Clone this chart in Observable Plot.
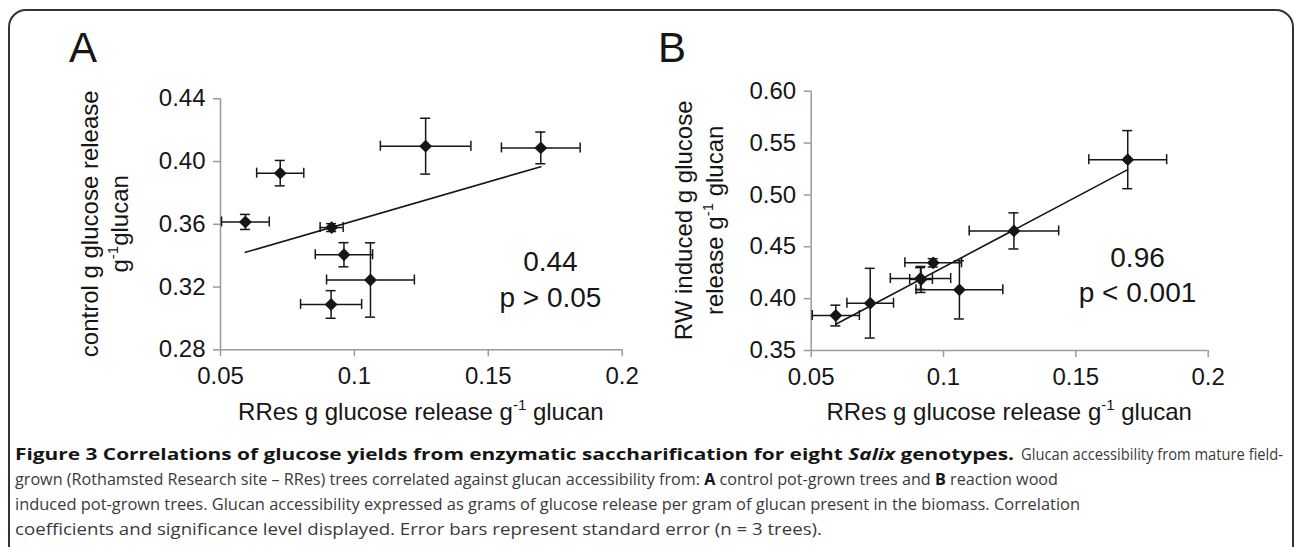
<!DOCTYPE html>
<html>
<head>
<meta charset="utf-8">
<script src="https://cdn.jsdelivr.net/npm/d3@7"></script>
<script src="https://cdn.jsdelivr.net/npm/@observablehq/plot@0.6"></script>
<style>
  html, body { margin: 0; padding: 0; background: #fff; }
  #page { position: relative; width: 1295px; height: 547px; overflow: hidden; background: #fff; }
  #frame { position: absolute; left: 8px; top: 9px; width: 1286px; height: 620px; border: 2px solid #333;
           border-radius: 18px; box-sizing: border-box; pointer-events: none; z-index: 5; }
  .panel { position: absolute; top: 0; height: 430px; }
  #caption { position: absolute; left: 0; top: 430px; width: 1295px; height: 117px; }
  #caption svg { display: block; }
  #caption text { white-space: pre; }
</style>
</head>
<body>
<div id="page">
  <div id="panelA" class="panel" style="left:0;width:647px"></div>
  <div id="panelB" class="panel" style="left:647px;width:648px"></div>
  <div id="caption"></div>
  <div id="frame"></div>
</div>
<script>
// ---- Data ----
const xTicks = [0.05, 0.1, 0.15, 0.2];
const yTicksA = [0.28, 0.32, 0.36, 0.40, 0.44];
const yTicksB = [0.35, 0.40, 0.45, 0.50, 0.55, 0.60];

// RRes glucose release (x) for eight Salix genotypes, with standard errors
const rresX    = [0.0593, 0.0723, 0.0915, 0.0961, 0.1060, 0.0913, 0.1266, 0.1696];
const rresXErr = [0.0089, 0.0088, 0.0043, 0.0107, 0.0164, 0.0114, 0.0169, 0.0147];

// Panel A: control pot-grown trees
const controlY    = [0.3615, 0.3926, 0.3579, 0.3406, 0.3245, 0.3089, 0.4098, 0.4087];
const controlYErr = [0.0048, 0.0081, 0.0025, 0.0077, 0.0237, 0.0088, 0.0178, 0.0101];

// Panel B: reaction-wood induced pot-grown trees
const rwY    = [0.3837, 0.3956, 0.4185, 0.4345, 0.4085, 0.4194, 0.4653, 0.5340];
const rwYErr = [0.0100, 0.0336, 0.0125, 0.0040, 0.0281, 0.0105, 0.0174, 0.0280];

// Annotations: correlation coefficient and significance
const annotationText = ["0.44\np > 0.05", "0.96\np < 0.001"];
const annotationX = [0.1732, 0.1733];
const annotationY = [0.3465, 0.4554];

const panelLetters = ["A", "B"];

// Caption lines (segments: b = bold, i = italic)
const captionLines = [
  [[{t: "Figure 3 Correlations of glucose yields from enzymatic saccharification for eight ", b: 1}, {t: "Salix", b: 1, i: 1}, {t: " genotypes.", b: 1}],
   [{t: "Glucan accessibility from mature field-"}]],
  [[{t: "grown (Rothamsted Research site \u2013 RRes) trees correlated against glucan accessibility from: "}, {t: "A", b: 1},
    {t: " control pot-grown trees and "}, {t: "B", b: 1}, {t: " reaction wood"}]],
  [[{t: "induced pot-grown trees. Glucan accessibility expressed as grams of glucose release per gram of glucan present in the biomass. Correlation"}]],
  [[{t: "coefficients and significance level displayed. Error bars represent standard error (n\u00A0=\u00A03 trees)."}]]
];
// horizontal extent of each caption run [x start, x end] in page pixels
const captionRuns = [[[15, 1014], [1021, 1283]], [[15, 1058]], [[15, 1080]], [[15, 822]]];

// ---- Drawing ----
const ink = "#161616";
const axisGray = "#9a9a9a";
const fontFamily = "'Liberation Sans', Arial, Helvetica, sans-serif";

function makePanel(o) {
  const data = rresX.map((x, i) => ({x, xe: rresXErr[i], y: o.y[i], ye: o.ye[i]}));
  const x0 = xTicks[0], x1 = xTicks[xTicks.length - 1];
  const y0 = o.yTicks[0], y1 = o.yTicks[o.yTicks.length - 1];
  const cap = 5;
  const svg = Plot.plot({
    width: o.width, height: 430,
    marginLeft: o.ml, marginRight: o.mr, marginTop: o.mt, marginBottom: o.mb,
    style: {fontFamily, fontSize: "24px", color: ink, background: "transparent", overflow: "visible"},
    x: {domain: [x0, x1]},
    y: {domain: [y0, y1]},
    marks: [
      Plot.ruleX([x0], {y1: y0, y2: y1, stroke: axisGray, strokeWidth: 1.5}),
      Plot.ruleY([y0], {x1: x0, x2: x1, stroke: axisGray, strokeWidth: 1.5}),
      Plot.axisX({ticks: xTicks, tickFormat: d => String(d), tickSize: 7, tickPadding: 10,
                  stroke: axisGray, strokeWidth: 1.5, fill: ink, label: null}),
      Plot.axisY({ticks: o.yTicks, tickFormat: d => d.toFixed(2), tickSize: 7, tickPadding: 8,
                  stroke: axisGray, strokeWidth: 1.5, fill: ink, label: null}),
      Plot.linearRegressionY(data, {x: "x", y: "y", ci: 0, stroke: ink, strokeWidth: 1.6}),
      Plot.ruleX(data, {x: "x", y1: d => d.y - d.ye, y2: d => d.y + d.ye, stroke: ink, strokeWidth: 1.5}),
      Plot.ruleY(data, {y: "y", x1: d => d.x - d.xe, x2: d => d.x + d.xe, stroke: ink, strokeWidth: 1.5}),
      Plot.ruleY(data, {y: d => d.y - d.ye, x1: "x", x2: "x", insetLeft: -cap, insetRight: -cap, stroke: ink, strokeWidth: 1.5}),
      Plot.ruleY(data, {y: d => d.y + d.ye, x1: "x", x2: "x", insetLeft: -cap, insetRight: -cap, stroke: ink, strokeWidth: 1.5}),
      Plot.ruleX(data, {x: d => d.x - d.xe, y1: "y", y2: "y", insetTop: -cap, insetBottom: -cap, stroke: ink, strokeWidth: 1.5}),
      Plot.ruleX(data, {x: d => d.x + d.xe, y1: "y", y2: "y", insetTop: -cap, insetBottom: -cap, stroke: ink, strokeWidth: 1.5}),
      Plot.dot(data, {x: "x", y: "y", symbol: "diamond2", r: 5.8, fill: ink, stroke: "none"}),
      Plot.text([{x: annotationX[o.k], y: annotationY[o.k], t: annotationText[o.k]}],
                {x: "x", y: "y", text: "t", fontSize: 28, lineAnchor: "top", lineHeight: 1.28,
                 textAnchor: "middle", fill: ink})
    ]
  });

  const s = d3.select(svg);
  const g = s.append("g").attr("font-family", fontFamily).attr("fill", ink);
  // panel letter
  g.append("text").attr("x", o.letterX).attr("y", 62).attr("font-size", 42).text(panelLetters[o.k]);

  function addLine(t, segs) {
    let shift = 0;
    segs.forEach(seg => {
      if (seg.sup) {
        t.append("tspan").attr("dy", -10).attr("font-size", 15).text(seg.sup);
        shift = 10;
      } else {
        const ts = t.append("tspan").text(seg.t);
        if (shift) { ts.attr("dy", shift); shift = 0; }
      }
    });
  }
  // y-axis title (rotated, two lines)
  const cy = (o.mt + (430 - o.mb)) / 2;
  o.yTitle.forEach((segs, k) => {
    const t = g.append("text")
      .attr("transform", `translate(${o.yTitleX[k]},${cy}) rotate(-90)`)
      .attr("text-anchor", "middle").attr("font-size", 24);
    addLine(t, segs);
  });
  // x-axis title
  const cx = (o.ml + (o.width - o.mr)) / 2;
  const tx = g.append("text").attr("x", cx).attr("y", 420).attr("text-anchor", "middle").attr("font-size", 24);
  addLine(tx, [{t: "RRes g glucose release g"}, {sup: "-1"}, {t: " glucan"}]);
  return svg;
}

document.getElementById("panelA").append(makePanel({
  k: 0, width: 647, ml: 220, mr: 25.3, mt: 98.3, mb: 80.7,
  y: controlY, ye: controlYErr, yTicks: yTicksA,
  letterX: 83,
  yTitle: [[{t: "control g glucose release"}], [{t: "g"}, {sup: "-1"}, {t: "glucan"}]],
  yTitleX: [98, 128]
}));

document.getElementById("panelB").append(makePanel({
  k: 1, width: 648, ml: 163.7, mr: 87.3, mt: 90.7, mb: 80,
  y: rwY, ye: rwYErr, yTicks: yTicksB,
  letterX: 25,
  yTitle: [[{t: "RW induced g glucose"}], [{t: "release g"}, {sup: "-1"}, {t: " glucan"}]],
  yTitleX: [44.7, 76]
}));

// caption as SVG text, each run stretched to its measured extent
const capSvg = d3.select("#caption").append("svg").attr("width", 1295).attr("height", 117)
  .attr("font-family", "'Open Sans', sans-serif").attr("font-size", 15.5);
captionLines.forEach((runs, li) => {
  runs.forEach((segs, ri) => {
    const [xa, xb] = captionRuns[li][ri];
    const t = capSvg.append("text").attr("x", xa).attr("y", 30 + li * 25)
      .attr("textLength", xb - xa).attr("lengthAdjust", "spacingAndGlyphs").attr("fill", "#3a3a3a");
    segs.forEach(seg => {
      const ts = t.append("tspan").text(seg.t);
      if (seg.b) ts.attr("font-weight", 700).attr("fill", "#151515");
      if (seg.i) ts.attr("font-style", "italic");
    });
  });
});
</script>
</body>
</html>
